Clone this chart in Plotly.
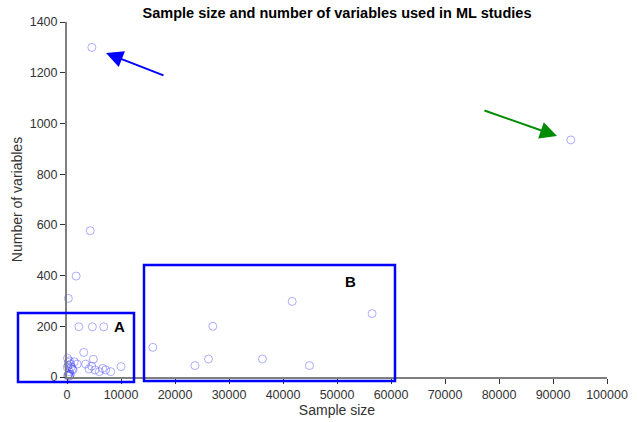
import plotly.graph_objects as go

# ---- data ----
sample_size = [4600, 93300, 4300, 1700, 250, 2200, 4700, 6800,
               15900, 23700, 26200, 27000, 36200, 41700, 44900, 56500,
               100, 430, 680, 60, 990, 430, 1360, 1900, 3100, 3460, 4070,
               4570, 4880, 5180, 5990, 6600, 7160, 8090, 10000,
               250, 550, 100, 300, 600, 400, 200, 800, 1100, 250]
num_vars = [1300, 935, 577, 398, 310, 198, 198, 198,
            117, 45, 71, 200, 71, 298, 45, 250,
            74, 64, 51, 38, 32, 21, 60, 51, 97, 51, 32,
            43, 70, 28, 21, 34, 28, 21, 41,
            8, 8, 5, 12, 10, 3, 45, 40, 28, 58]

x_ticks = [0, 10000, 20000, 30000, 40000, 50000, 60000, 70000, 80000, 90000, 100000]
y_ticks = [0, 200, 400, 600, 800, 1000, 1200, 1400]

fig = go.Figure()
fig.add_trace(go.Scatter(
    x=sample_size, y=num_vars, mode="markers", cliponaxis=False,
    marker=dict(symbol="circle-open", size=8,
                color="rgba(60,60,255,0.42)", line=dict(width=1)),
    showlegend=False, hoverinfo="x+y"))

axis_common = dict(showgrid=False, zeroline=False, showline=True, automargin=False,
                   linecolor="#7f7f7f", linewidth=2, ticks="outside",
                   ticklen=5, tickwidth=1, tickcolor="#333333",
                   tickfont=dict(family="Liberation Sans, Arial", size=12.5, color="#333333"),
                   title_font=dict(family="Liberation Sans, Arial", size=14, color="#333333"))

fig.update_layout(
    width=638, height=422,
    margin=dict(l=67, r=31, t=22, b=45),
    paper_bgcolor="white", plot_bgcolor="white",
    title=dict(text="<b>Sample size and number of variables used in ML studies</b>",
               x=0.5, xref="paper", xanchor="center", y=0.982, yref="container", yanchor="top",
               automargin=False,
               font=dict(family="Liberation Sans, Arial", size=14.5, color="black")),
    xaxis=dict(range=[0, 100000], tickvals=x_ticks, ticktext=[str(v) for v in x_ticks],
               title=dict(text="Sample size", standoff=4), **axis_common),
    yaxis=dict(range=[0, 1400], tickvals=y_ticks, ticktext=[str(v) for v in y_ticks],
               title=dict(text="Number of variables", standoff=4), **axis_common),
)

# plot area in pixels: x 67..607, y 22..377
def px(xp):
    return (xp - 67) / 540.0

def py(yp):
    return (377 - yp) / 355.0

# boxes A and B
fig.add_shape(type="rect", xref="paper", yref="paper",
              x0=px(18), x1=px(134), y0=py(382), y1=py(313),
              line=dict(color="#0000ff", width=2.5))
fig.add_shape(type="rect", xref="paper", yref="paper",
              x0=px(144), x1=px(395), y0=py(381), y1=py(265),
              line=dict(color="#0000ff", width=2.5))
fig.add_annotation(xref="paper", yref="paper", x=px(112), y=py(337), text="<b>A</b>",
                   showarrow=False, font=dict(family="Liberation Sans, Arial", size=15, color="black"))
fig.add_annotation(xref="paper", yref="paper", x=px(350), y=py(292), text="<b>B</b>",
                   showarrow=False, font=dict(family="Liberation Sans, Arial", size=15, color="black"))

# arrows
fig.add_annotation(xref="paper", yref="paper", x=px(106), y=py(53), ax=59, ay=23,
                   axref="pixel", ayref="pixel", text="", showarrow=True,
                   arrowhead=2, arrowsize=1.7, arrowwidth=2, arrowcolor="#0000ff")
fig.add_annotation(xref="paper", yref="paper", x=px(557), y=py(136), ax=-74, ay=-26,
                   axref="pixel", ayref="pixel", text="", showarrow=True,
                   arrowhead=2, arrowsize=1.7, arrowwidth=2, arrowcolor="#008c00")

fig.write_html("out.html", config={"displayModeBar": False},
               post_script="document.body.style.margin='0';")
